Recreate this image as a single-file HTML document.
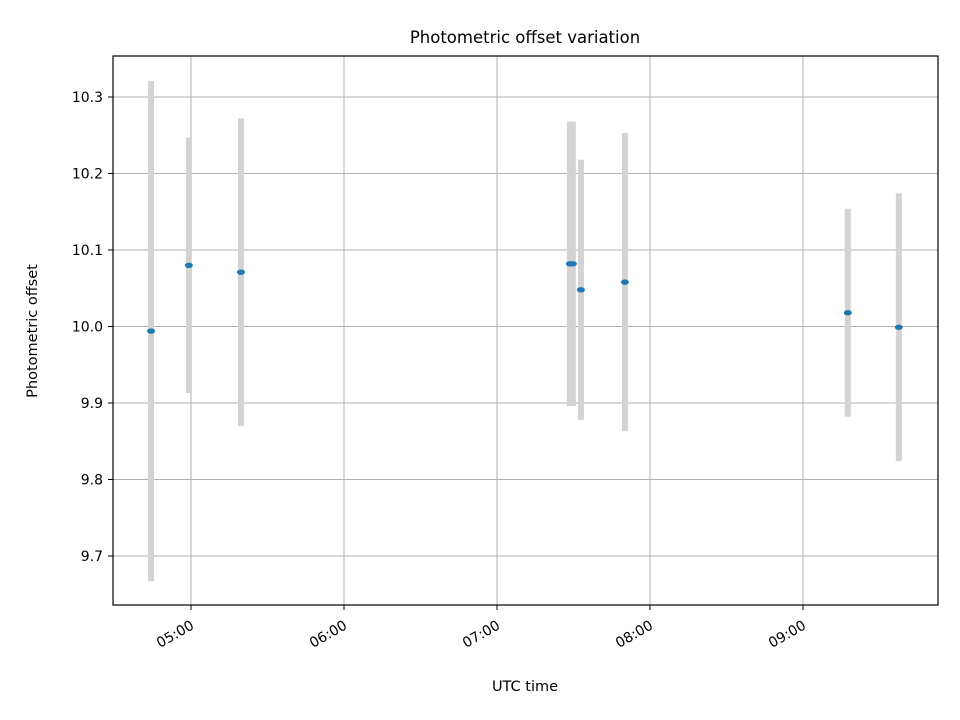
<!DOCTYPE html>
<html><head><meta charset="utf-8"><style>
body{margin:0;background:#fff;}
svg{display:block;font-family:"DejaVu Sans","Liberation Sans",sans-serif;}
</style></head><body>
<svg id="chart" width="960" height="720" viewBox="0 0 960 720">
<rect x="0" y="0" width="960" height="720" fill="#fff"/>
<text x="525" y="43" text-anchor="middle" font-size="16.5">Photometric offset variation</text>
<g id="grid"></g>
<g id="bars"></g>
<g id="points"></g>
<rect x="113" y="56" width="825" height="549" fill="none" stroke="#000" stroke-width="1.2"/>
<g id="yticks"></g>
<g id="xticks"></g>
<text x="525" y="691" text-anchor="middle" font-size="14.5">UTC time</text>
<text transform="translate(37,331) rotate(-90)" text-anchor="middle" font-size="14.5">Photometric offset</text>
</svg>
<script>
const times = ["04:44:20","04:59:10","05:19:35","07:28:35","07:29:45","07:32:55","07:50:10","09:17:35","09:37:35"];
const offsets = [9.994,10.080,10.071,10.082,10.082,10.048,10.058,10.018,9.999];
const errors = [0.327,0.167,0.201,0.186,0.186,0.170,0.195,0.136,0.175];
const yTicks = [9.7,9.8,9.9,10.0,10.1,10.2,10.3];
const xTicks = ["05:00","06:00","07:00","08:00","09:00"];
const NS="http://www.w3.org/2000/svg";
function toH(s){const p=s.split(":").map(Number);return p[0]+(p[1]||0)/60+(p[2]||0)/3600;}
function xs(h){return 191+(h-5)*153;}
function ys(v){return 97+(10.3-v)*765;}
function mk(tag,attrs,parent){const e=document.createElementNS(NS,tag);for(const k in attrs)e.setAttribute(k,attrs[k]);document.getElementById(parent).appendChild(e);return e;}
yTicks.forEach(v=>{
 const y=ys(v);
 const g=mk("line",{x1:113,x2:938,y1:y,y2:y,stroke:"#b0b0b0","stroke-width":1},"grid");
 
 
 mk("line",{x1:108,x2:113,y1:y,y2:y,stroke:"#000"},"yticks");
 const t=mk("text",{x:103,y:y+5,"text-anchor":"end","font-size":14},"yticks");
 t.textContent=v.toFixed(1);
 
 
});
xTicks.forEach(s=>{
 const x=xs(toH(s));
 const g=mk("line",{x1:x,x2:x,y1:56,y2:605,stroke:"#b0b0b0","stroke-width":1},"grid");
 
 
 mk("line",{x1:x,x2:x,y1:605,y2:610,stroke:"#000"},"xticks");
 const t=mk("text",{x:0,y:0,"text-anchor":"end","font-size":14,transform:`translate(${x+4},${628}) rotate(-30)`},"xticks");
 t.textContent=s;
 
 
});
times.forEach((s,i)=>{
 const x=xs(toH(s));
 const b=mk("line",{x1:x,x2:x,y1:ys(offsets[i]+errors[i]),y2:ys(offsets[i]-errors[i]),stroke:"#d3d3d3","stroke-width":6},"bars");
 
 
 const p=mk("ellipse",{cx:x,cy:ys(offsets[i]),rx:4,ry:2.7,fill:"#1f77b4"},"points");
 
 
});
</script>
</body></html>
